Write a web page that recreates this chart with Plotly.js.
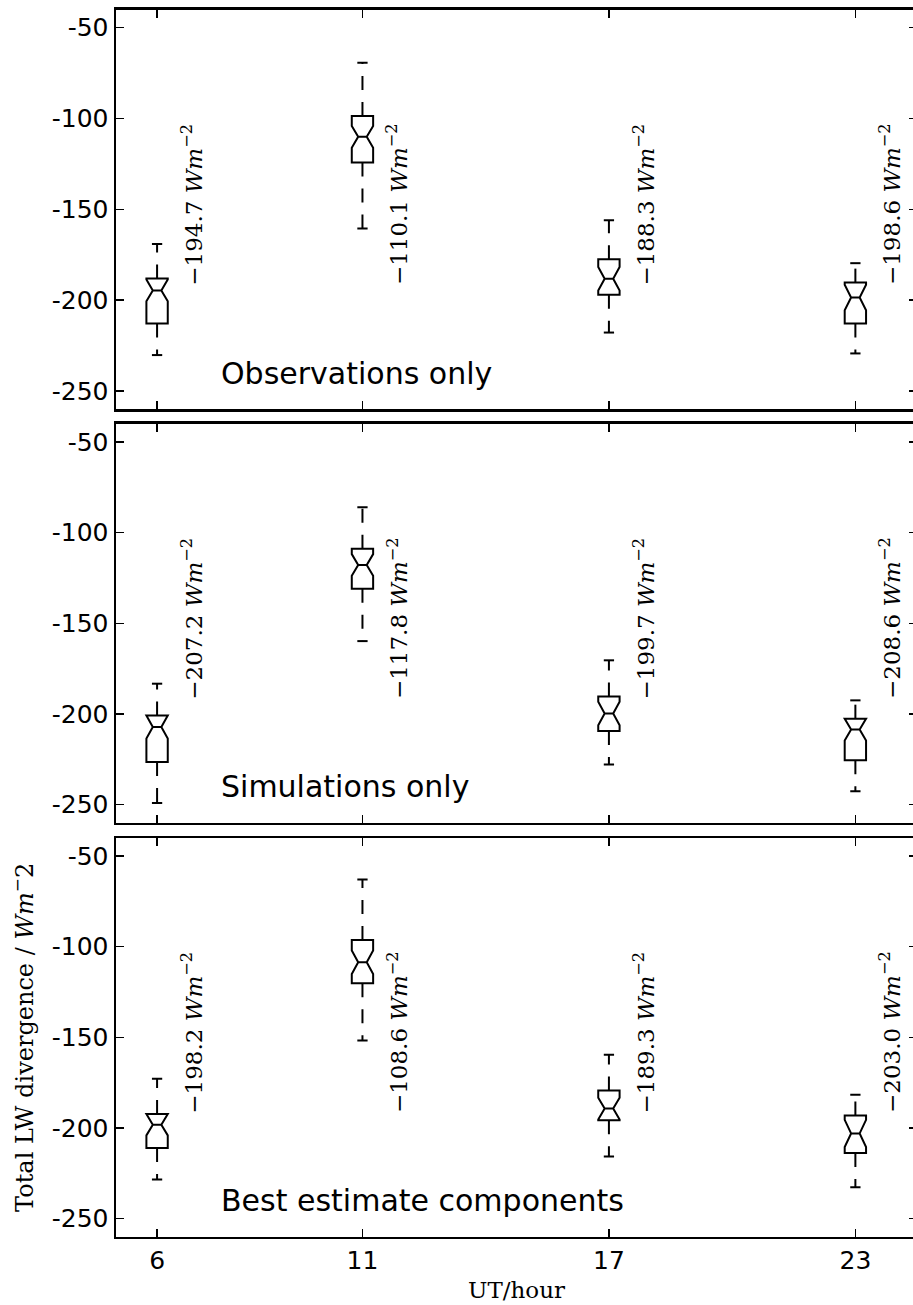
<!DOCTYPE html>
<html><head><meta charset="utf-8">
<script src="https://cdn.plot.ly/plotly-3.0.1.min.js"></script>
<style>html,body{margin:0;padding:0;overflow:hidden;background:#fff}</style>
</head><body><div id="chart" style="width:925px;height:1305px"></div>
<script>
// ---- data ----
const hours = [6, 11, 17, 23];
const yTickVals = [-250, -200, -150, -100, -50];
const yTickText = ['-250', '-200', '-150', '-100', '-50'];
const panelNames = ['Observations only', 'Simulations only', 'Best estimate components'];

const obsMedian = [-194.7, -110.1, -188.3, -198.6];
const obsQ1     = [-212.9, -124.3, -197.1, -212.9];
const obsQ3     = [-188.2,  -98.6, -177.5, -190.4];
const obsLow    = [-230.3, -160.6, -217.9, -229.4];
const obsHigh   = [-169.2,  -69.3, -156.0, -179.7];
const obsNotch  = [6.0, 6.0, 6.5, 7.0];

const simMedian = [-207.2, -117.8, -199.7, -208.6];
const simQ1     = [-226.5, -130.9, -209.4, -225.6];
const simQ3     = [-200.9, -108.8, -190.3, -202.6];
const simLow    = [-249.1, -159.8, -227.9, -242.7];
const simHigh   = [-183.3,  -85.9, -170.4, -192.5];
const simNotch  = [6.3, 6.0, 6.5, 6.0];

const bestMedian = [-198.2, -108.6, -189.3, -203.0];
const bestQ1     = [-211.1, -120.2, -195.8, -213.8];
const bestQ3     = [-192.3,  -96.3, -179.3, -193.1];
const bestLow    = [-228.5, -151.8, -215.7, -232.7];
const bestHigh   = [-172.9,  -62.9, -159.6, -181.7];
const bestNotch  = [5.9, 6.5, 6.0, 7.5];

// ---- build ----
const panels = [
  {median: obsMedian, q1: obsQ1, q3: obsQ3, lo: obsLow, hi: obsHigh, notch: obsNotch},
  {median: simMedian, q1: simQ1, q3: simQ3, lo: simLow, hi: simHigh, notch: simNotch},
  {median: bestMedian, q1: bestQ1, q3: bestQ3, lo: bestLow, hi: bestHigh, notch: bestNotch}
];
const BOXW = 0.52, CAPHALF = 0.125, LABEL_DX = 0.86, LABEL_Y = -193;
const domains = [[0.68659, 0.99272], [0.36958, 0.67510], [0.05234, 0.35785]];

const traces = [];
const annotations = [];
const layout = {
  width: 925, height: 1305,
  margin: {l: 116, r: 8, t: 0, b: 0},
  paper_bgcolor: '#fff', plot_bgcolor: '#fff',
  showlegend: false,
  font: {family: 'DejaVu Sans', color: '#000'},
  annotations: annotations
};

panels.forEach((p, k) => {
  const sfx = k === 0 ? '' : String(k + 1);
  const xa = 'x' + sfx, ya = 'y' + sfx;
  traces.push({
    type: 'box', orientation: 'v', x: hours,
    q1: p.q1, median: p.median, q3: p.q3,
    lowerfence: p.q1, upperfence: p.q3,
    notched: true, notchspan: p.notch, notchwidth: 0.3,
    width: BOXW, whiskerwidth: 0, boxpoints: false,
    line: {color: '#000', width: 2}, fillcolor: 'rgba(0,0,0,0)',
    hoverinfo: 'skip', xaxis: xa, yaxis: ya
  });
  const wx = [], wy = [], cx = [], cy = [];
  hours.forEach((h, i) => {
    wx.push(h, h, null, h, h, null);
    wy.push(p.q3[i], p.hi[i], null, p.q1[i], p.lo[i], null);
    cx.push(h - CAPHALF, h + CAPHALF, null, h - CAPHALF, h + CAPHALF, null);
    cy.push(p.hi[i], p.hi[i], null, p.lo[i], p.lo[i], null);
  });
  traces.push({type: 'scatter', mode: 'lines', x: wx, y: wy, xaxis: xa, yaxis: ya,
    line: {color: '#000', width: 2, dash: '14px,12px'}, hoverinfo: 'skip'});
  traces.push({type: 'scatter', mode: 'lines', x: cx, y: cy, xaxis: xa, yaxis: ya,
    line: {color: '#000', width: 2}, hoverinfo: 'skip'});

  layout['xaxis' + sfx] = {
    domain: [0, 1], range: [5, 24.5], anchor: ya,
    tickvals: hours, ticktext: hours.map(String), showticklabels: k === 2,
    ticks: 'inside', ticklen: 8, tickwidth: 1.5, tickcolor: '#000',
    showline: true, linewidth: 2.5, linecolor: '#000', mirror: 'ticks',
    showgrid: false, zeroline: false, automargin: false,
    tickfont: {family: 'DejaVu Sans', size: 25, color: '#000'}
  };
  layout['yaxis' + sfx] = {
    domain: domains[k], range: [-260, -40], anchor: xa,
    tickvals: yTickVals, ticktext: yTickText,
    ticks: 'inside', ticklen: 8, tickwidth: 1.5, tickcolor: '#000',
    showline: true, linewidth: 2.5, linecolor: '#000', mirror: 'ticks',
    showgrid: false, zeroline: false, automargin: false,
    tickfont: {family: 'DejaVu Sans', size: 25, color: '#000'}
  };

  hours.forEach((h, i) => {
    annotations.push({
      xref: xa, yref: ya, x: h + LABEL_DX, y: LABEL_Y,
      xanchor: 'center', yanchor: 'bottom', textangle: -90, showarrow: false,
      text: '\u2212' + Math.abs(p.median[i]).toFixed(1) + ' <i>Wm</i><sup>\u22122</sup>',
      font: {family: 'DejaVu Serif', size: 23, color: '#000'}
    });
  });
  annotations.push({
    xref: xa, yref: ya, x: 7.5, y: -251, xanchor: 'left', yanchor: 'bottom',
    showarrow: false, text: panelNames[k],
    font: {family: 'DejaVu Sans', size: 30, color: '#000'}
  });
});

layout.yaxis3.title = {text: 'Total LW divergence / <i>Wm</i><sup>\u2212</sup>2',
  font: {family: 'DejaVu Serif', size: 24, color: '#000'}, standoff: 12};
layout.xaxis3.title = {text: 'UT/hour',
  font: {family: 'DejaVu Serif', size: 23, color: '#000'}, standoff: 8};

Plotly.newPlot('chart', traces, layout, {staticPlot: true, displayModeBar: false});
</script></body></html>
